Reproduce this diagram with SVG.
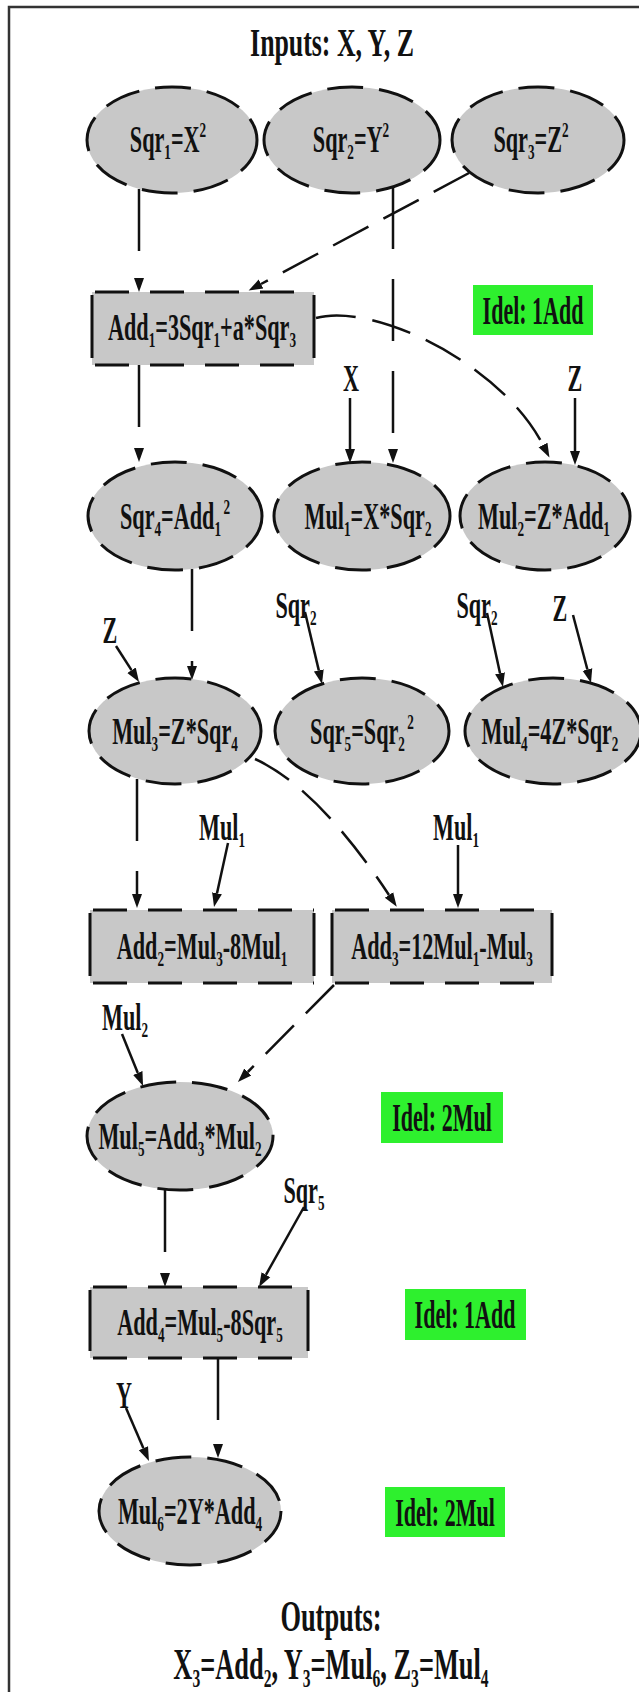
<svg xmlns="http://www.w3.org/2000/svg" width="639" height="1692" viewBox="0 0 639 1692">
<defs>
<style>
text{font-family:"Liberation Serif","Times New Roman",serif;font-weight:bold;fill:#111;text-anchor:middle}
.n{font-size:37px}
.t{font-size:41px}
.o{font-size:44px}
.i{font-size:40px}
.sb{font-size:22px}
.el{fill:#c8c8c8;stroke:#111;stroke-width:3;stroke-dasharray:36 16}
.bx{fill:#c8c8c8;stroke:none}
.bh{stroke:#111;stroke-width:3;stroke-dasharray:34 21;fill:none}
.bv{stroke:#111;stroke-width:3;fill:none}
.gr{fill:#2ef02e}
.c{fill:none;stroke:#111;stroke-width:2.5;stroke-dasharray:62 30;marker-end:url(#ah)}
.d{fill:none;stroke:#111;stroke-width:2.5;stroke-dasharray:40 17;marker-end:url(#ah)}
.s{fill:none;stroke:#111;stroke-width:2.5;marker-end:url(#ah)}
</style>
<marker id="ah" markerUnits="userSpaceOnUse" markerWidth="20" markerHeight="14" viewBox="0 -7 20 14" refX="0" refY="0" orient="auto">
<path d="M0,-5 L14,0 L0,5 Z" fill="#111"/>
</marker>
</defs>
<rect x="0" y="0" width="639" height="1692" fill="#fff"/>
<path d="M9,1700 V7 H645" fill="none" stroke="#333" stroke-width="2.5"/>

<g id="title"><text class="t" transform="translate(332,56) scale(0.63,1)">Inputs: X, Y, Z</text></g>

<g id="connectors">
<path class="c" d="M139,189 V278"/>
<path class="c" d="M393,187 V449"/>
<path class="d" d="M469,173 L261,284"/>
<path class="c" d="M139,365 V448"/>
<path class="d" d="M316,318 C372,302 500,362 543,445"/>
<path class="s" d="M350,398 V449"/>
<path class="s" d="M575,398 V451"/>
<path class="c" d="M192,569 V666"/>
<path class="s" d="M116,646 L131.5,670.2"/>
<path class="s" d="M305,612 L318.8,670.4"/>
<path class="s" d="M487,613 L500,673.3"/>
<path class="s" d="M573,615 L587.4,669.5"/>
<path class="c" d="M137,779 V894"/>
<path class="s" d="M228,843 L217,893.3"/>
<path class="d" d="M255,759 Q318,788 389,895"/>
<path class="s" d="M458,845 V894"/>
<path class="d" d="M334,985 L247.8,1072"/>
<path class="s" d="M122,1034 L137.8,1073"/>
<path class="c" d="M165,1190 V1273"/>
<path class="s" d="M304,1207 L265.9,1274.8"/>
<path class="c" d="M218,1358 V1444"/>
<path class="s" d="M126,1408 L143.4,1448.2"/>
</g>

<g id="sqr1"><ellipse class="el" cx="172" cy="140" rx="85" ry="53"/>
<text class="n" transform="translate(168,152) scale(0.6,1)">Sqr<tspan class="sb" dy="7">1</tspan><tspan dy="-7">=X</tspan><tspan class="sb" dy="-15">2</tspan></text></g>
<g id="sqr2"><ellipse class="el" cx="352" cy="140" rx="88" ry="53"/>
<text class="n" transform="translate(351,152) scale(0.6,1)">Sqr<tspan class="sb" dy="7">2</tspan><tspan dy="-7">=Y</tspan><tspan class="sb" dy="-15">2</tspan></text></g>
<g id="sqr3"><ellipse class="el" cx="538" cy="140" rx="86" ry="53"/>
<text class="n" transform="translate(531,152) scale(0.6,1)">Sqr<tspan class="sb" dy="7">3</tspan><tspan dy="-7">=Z</tspan><tspan class="sb" dy="-15">2</tspan></text></g>

<g id="add1"><rect class="bx" x="92" y="292" width="222" height="73"/>
<path class="bh" d="M95,292 H314 M95,365 H314"/><path class="bv" d="M92,295 V358 M314,295 V358"/>
<text class="n" transform="translate(202,340) scale(0.6,1)">Add<tspan class="sb" dy="7">1</tspan><tspan dy="-7">=3Sqr</tspan><tspan class="sb" dy="7">1</tspan><tspan dy="-7">+a*Sqr</tspan><tspan class="sb" dy="7">3</tspan></text></g>

<g id="idel1"><rect class="gr" x="473" y="285" width="120" height="50"/>
<text class="i" transform="translate(533,324) scale(0.55,1)">Idel: 1Add</text></g>

<g id="lbl-x"><text class="n" transform="translate(351,391) scale(0.6,1)">X</text></g>
<g id="lbl-z1"><text class="n" transform="translate(575,391) scale(0.6,1)">Z</text></g>

<g id="sqr4"><ellipse class="el" cx="175" cy="516" rx="87" ry="54"/>
<text class="n" transform="translate(175,529) scale(0.6,1)">Sqr<tspan class="sb" dy="7">4</tspan><tspan dy="-7">=Add</tspan><tspan class="sb" dy="7">1</tspan><tspan class="sb" dx="4" dy="-22">2</tspan></text></g>
<g id="mul1"><ellipse class="el" cx="362" cy="516" rx="88" ry="54"/>
<text class="n" transform="translate(368,529) scale(0.6,1)">Mul<tspan class="sb" dy="7">1</tspan><tspan dy="-7">=X*Sqr</tspan><tspan class="sb" dy="7">2</tspan></text></g>
<g id="mul2"><ellipse class="el" cx="545" cy="516" rx="85" ry="54"/>
<text class="n" transform="translate(544,529) scale(0.6,1)">Mul<tspan class="sb" dy="7">2</tspan><tspan dy="-7">=Z*Add</tspan><tspan class="sb" dy="7">1</tspan></text></g>

<g id="lbl-z2"><text class="n" transform="translate(110,643) scale(0.6,1)">Z</text></g>
<g id="lbl-sqr2a"><text class="n" transform="translate(296,618) scale(0.6,1)">Sqr<tspan class="sb" dy="7">2</tspan></text></g>
<g id="lbl-sqr2b"><text class="n" transform="translate(477,618) scale(0.6,1)">Sqr<tspan class="sb" dy="7">2</tspan></text></g>
<g id="lbl-z3"><text class="n" transform="translate(560,621) scale(0.6,1)">Z</text></g>

<g id="mul3"><ellipse class="el" cx="175" cy="731" rx="86" ry="53"/>
<text class="n" transform="translate(175,744) scale(0.6,1)">Mul<tspan class="sb" dy="7">3</tspan><tspan dy="-7">=Z*Sqr</tspan><tspan class="sb" dy="7">4</tspan></text></g>
<g id="sqr5"><ellipse class="el" cx="362" cy="731" rx="87" ry="53"/>
<text class="n" transform="translate(362,744) scale(0.6,1)">Sqr<tspan class="sb" dy="7">5</tspan><tspan dy="-7">=Sqr</tspan><tspan class="sb" dy="7">2</tspan><tspan class="sb" dx="4" dy="-22">2</tspan></text></g>
<g id="mul4"><ellipse class="el" cx="553" cy="731" rx="88" ry="53"/>
<text class="n" transform="translate(550,744) scale(0.6,1)">Mul<tspan class="sb" dy="7">4</tspan><tspan dy="-7">=4Z*Sqr</tspan><tspan class="sb" dy="7">2</tspan></text></g>

<g id="lbl-mul1a"><text class="n" transform="translate(222,840) scale(0.6,1)">Mul<tspan class="sb" dy="7">1</tspan></text></g>
<g id="lbl-mul1b"><text class="n" transform="translate(456,840) scale(0.6,1)">Mul<tspan class="sb" dy="7">1</tspan></text></g>

<g id="add2"><rect class="bx" x="90" y="910" width="224" height="73"/>
<path class="bh" d="M93,910 H314 M93,983 H314"/><path class="bv" d="M90,913 V976 M314,913 V976"/>
<text class="n" transform="translate(202,959) scale(0.6,1)">Add<tspan class="sb" dy="7">2</tspan><tspan dy="-7">=Mul</tspan><tspan class="sb" dy="7">3</tspan><tspan dy="-7">-8Mul</tspan><tspan class="sb" dy="7">1</tspan></text></g>
<g id="add3"><rect class="bx" x="332" y="910" width="220" height="73"/>
<path class="bh" d="M335,910 H552 M335,983 H552"/><path class="bv" d="M332,913 V976 M552,913 V976"/>
<text class="n" transform="translate(442,959) scale(0.6,1)">Add<tspan class="sb" dy="7">3</tspan><tspan dy="-7">=12Mul</tspan><tspan class="sb" dy="7">1</tspan><tspan dy="-7">-Mul</tspan><tspan class="sb" dy="7">3</tspan></text></g>

<g id="lbl-mul2"><text class="n" transform="translate(125,1030) scale(0.6,1)">Mul<tspan class="sb" dy="7">2</tspan></text></g>

<g id="mul5"><ellipse class="el" cx="180" cy="1136" rx="93" ry="54"/>
<text class="n" transform="translate(180,1149) scale(0.6,1)">Mul<tspan class="sb" dy="7">5</tspan><tspan dy="-7">=Add</tspan><tspan class="sb" dy="7">3</tspan><tspan dy="-7">*Mul</tspan><tspan class="sb" dy="7">2</tspan></text></g>

<g id="idel2"><rect class="gr" x="381" y="1092" width="122" height="51"/>
<text class="i" transform="translate(442,1131) scale(0.55,1)">Idel: 2Mul</text></g>

<g id="lbl-sqr5"><text class="n" transform="translate(304,1203) scale(0.6,1)">Sqr<tspan class="sb" dy="7">5</tspan></text></g>

<g id="add4"><rect class="bx" x="90" y="1287" width="218" height="71"/>
<path class="bh" d="M93,1287 H308 M93,1358 H308"/><path class="bv" d="M90,1290 V1351 M308,1290 V1351"/>
<text class="n" transform="translate(200,1335) scale(0.6,1)">Add<tspan class="sb" dy="7">4</tspan><tspan dy="-7">=Mul</tspan><tspan class="sb" dy="7">5</tspan><tspan dy="-7">-8Sqr</tspan><tspan class="sb" dy="7">5</tspan></text></g>

<g id="idel3"><rect class="gr" x="405" y="1289" width="121" height="51"/>
<text class="i" transform="translate(465,1328) scale(0.55,1)">Idel: 1Add</text></g>

<g id="lbl-y"><text class="n" transform="translate(124,1408) scale(0.6,1)">Y</text></g>

<g id="mul6"><ellipse class="el" cx="190" cy="1511" rx="91" ry="54"/>
<text class="n" transform="translate(190,1524) scale(0.6,1)">Mul<tspan class="sb" dy="7">6</tspan><tspan dy="-7">=2Y*Add</tspan><tspan class="sb" dy="7">4</tspan></text></g>

<g id="idel4"><rect class="gr" x="385" y="1487" width="120" height="50"/>
<text class="i" transform="translate(445,1526) scale(0.55,1)">Idel: 2Mul</text></g>

<g id="outputs">
<text class="o" transform="translate(331,1631) scale(0.6,1)">Outputs:</text>
<text class="o" transform="translate(331,1679) scale(0.6,1)">X<tspan class="sb" dy="8" style="font-size:26px">3</tspan><tspan dy="-8">=Add</tspan><tspan class="sb" dy="8" style="font-size:26px">2</tspan><tspan dy="-8">, Y</tspan><tspan class="sb" dy="8" style="font-size:26px">3</tspan><tspan dy="-8">=Mul</tspan><tspan class="sb" dy="8" style="font-size:26px">6</tspan><tspan dy="-8">, Z</tspan><tspan class="sb" dy="8" style="font-size:26px">3</tspan><tspan dy="-8">=Mul</tspan><tspan class="sb" dy="8" style="font-size:26px">4</tspan></text>
</g>
</svg>
